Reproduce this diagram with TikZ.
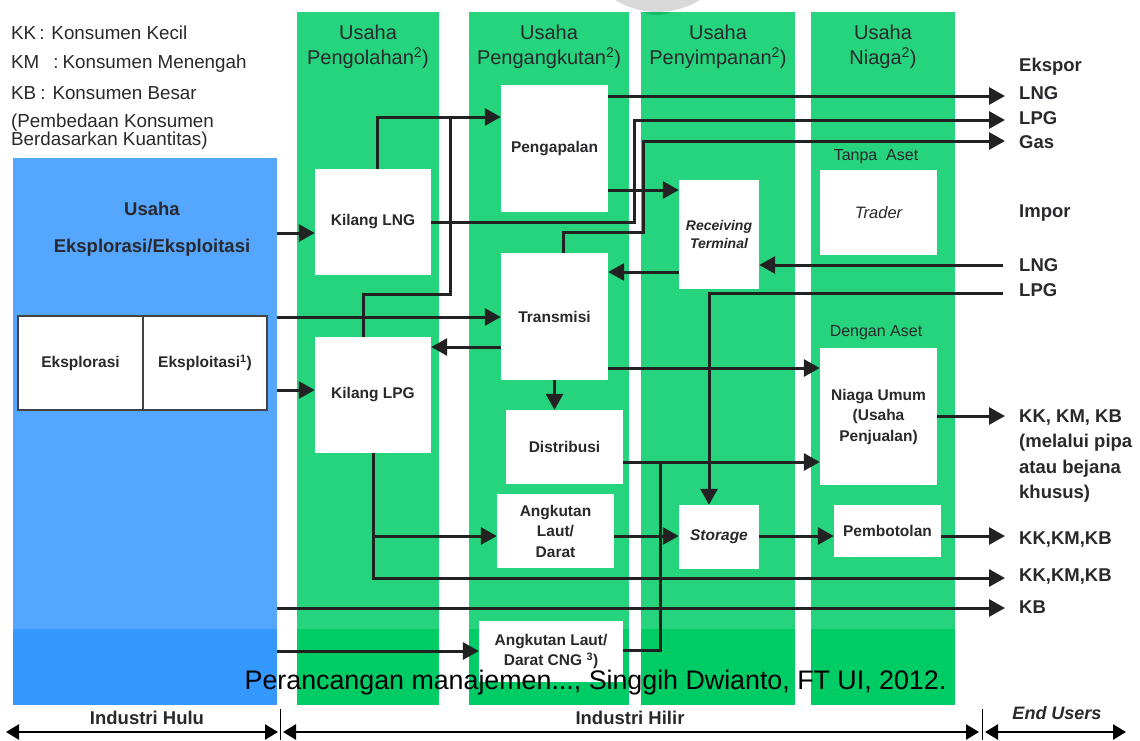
\documentclass[tikz,border=0pt]{standalone}
\usepackage{fontspec}
\setmainfont{Liberation Sans}
\usetikzlibrary{arrows.meta}

\definecolor{grn}{RGB}{38,212,125}
\definecolor{grnD}{RGB}{0,204,102}
\definecolor{grnS}{RGB}{20,185,105}
\definecolor{blu}{RGB}{85,166,255}
\definecolor{bluD}{RGB}{51,153,255}
\definecolor{ink}{RGB}{34,34,34}
\definecolor{txt}{RGB}{40,40,45}
\definecolor{sealgray}{RGB}{217,217,217}

\newcommand{\setfs}[2]{\fontsize{#1pt}{#2pt}\selectfont}

\begin{document}
\begin{tikzpicture}[x=1pt,y=-1pt,
  box/.style={fill=white, draw=none, inner sep=0pt, align=center, text=txt,
              font=\setfs{15.5}{20.5}\bfseries},
  hdr/.style={align=center, text=txt, font=\setfs{20}{25}},
  sub/.style={text=txt, font=\setfs{16}{20}},
  rlab/.style={anchor=west, inner sep=0pt, text=txt, align=left,
               font=\setfs{18.5}{25.3}\bfseries},
  leg/.style={anchor=west, inner sep=0pt, text=txt, font=\setfs{18.8}{18}},
  ln/.style={line width=3pt, draw=ink},
  arr/.style={ln, -{Triangle[length=16pt,width=17pt]}},
  dbl/.style={line width=2.6pt, draw=black,
              {Triangle[length=13pt,width=15pt]}-{Triangle[length=13pt,width=15pt]}},
  foot/.style={text=txt, font=\setfs{18.5}{20}\bfseries}]

\useasboundingbox (0,0) rectangle (1140,740);

% faint round seal at the top edge
\begin{scope}
  \clip (0,0) rectangle (1140,740);
  \fill[sealgray] (657.5,-69) circle (81);
\end{scope}

% ---------- business columns ----------
\foreach \a/\b in {297/439, 469/629, 641/795, 811/955}{
  \fill[grn] (\a,12) rectangle (\b,705);
  \fill[grnD] (\a,629) rectangle (\b,705);
}
\begin{scope}
  \clip (641,12) rectangle (795,30);
  \fill[grnS] (657,-20) circle (35);
\end{scope}

% upstream block
\node[fill=blu, draw=none, minimum width=264pt, minimum height=547pt,
      inner sep=0pt] (hulu) at (145,431.5) {};
\fill[bluD] (13,629) rectangle (277,705);
\node[align=center, text=txt, font=\setfs{18.5}{37}\bfseries] (hulut) at (152,229)
  {Usaha\\Eksplorasi/Eksploitasi};
\node[draw=ink!85, line width=1.2pt, fill=white, minimum width=125pt,
      minimum height=94pt, inner sep=0pt, text=txt, font=\setfs{15.5}{20}\bfseries]
  (eksr) at (80.5,363) {Eksplorasi};
\node[draw=ink!85, line width=1.2pt, fill=white, minimum width=124pt,
      minimum height=94pt, inner sep=0pt, text=txt, font=\setfs{15.5}{20}\bfseries]
  (eksp) at (205,363) {Eksploitasi\textsuperscript{1})};

% column headings
\node[hdr] (h1) at (368,47) {Usaha\\Pengolahan\textsuperscript{2})};
\node[hdr] (h2) at (549,47) {Usaha\\Pengangkutan\textsuperscript{2})};
\node[hdr] (h3) at (718,47) {Usaha\\Penyimpanan\textsuperscript{2})};
\node[hdr] (h4) at (883,47) {Usaha\\Niaga\textsuperscript{2})};
\node[sub] (tanpa) at (876,157) {Tanpa\ \ Aset};
\node[sub] (dengan) at (876,333) {Dengan Aset};

% legend
\node[leg] (l1) at (11,33) {KK\hspace{3pt}:\hspace{7pt}Konsumen Kecil};
\node[leg] (l2) at (11,64) {KM\hspace{14pt}:\hspace{4pt}Konsumen Menengah};
\node[leg] (l3) at (11,93) {KB\hspace{4pt}:\hspace{7pt}Konsumen Besar};
\node[leg] (l4) at (11,123) {(Pembedaan Konsumen};
\node[leg] (l5) at (11,141) {Berdasarkan Kuantitas)};

% ---------- process boxes ----------
\node[box, minimum width=107pt, minimum height=127pt] (peng) at (554.5,148.5) {Pengapalan};
\node[box, minimum width=116pt, minimum height=106pt] (lng) at (373,222) {Kilang LNG};
\node[box, minimum width=107pt, minimum height=127pt] (trans) at (554.5,316.5) {Transmisi};
\node[box, minimum width=116pt, minimum height=116pt] (lpg) at (373,395) {Kilang LPG};
\node[box, minimum width=117pt, minimum height=74pt] (dist) at (564.5,447) {Distribusi};
\node[box, minimum width=117pt, minimum height=74pt] (ald) at (555.5,531) {Angkutan\\Laut/\\Darat};
\node[box, minimum width=144pt, minimum height=61pt] (cng) at (551,651.5)
  {Angkutan Laut/\\Darat CNG \textsuperscript{3})};
\node[box, minimum width=80pt, minimum height=109pt, font=\setfs{14}{18}\bfseries\itshape]
  (rt) at (719,234.5) {Receiving\\Terminal};
\node[box, minimum width=117pt, minimum height=85pt, font=\setfs{16.5}{20}\itshape]
  (trader) at (878.5,212.5) {Trader};
\node[box, minimum width=117pt, minimum height=137pt] (niaga) at (878.5,416.5)
  {Niaga Umum\\(Usaha\\Penjualan)};
\node[box, minimum width=80pt, minimum height=64pt, font=\setfs{15.5}{20}\bfseries\itshape]
  (storage) at (719,537) {Storage};
\node[box, minimum width=107pt, minimum height=52pt] (pemb) at (887.5,531) {Pembotolan};

% ---------- outside labels ----------
\node[rlab] (tEks) at (1019,67) {Ekspor};
\node[rlab] (tLNG) at (1019,93) {LNG};
\node[rlab] (tLPG) at (1019,118) {LPG};
\node[rlab] (tGas) at (1019,142) {Gas};
\node[rlab] (tImp) at (1019,213) {Impor};
\node[rlab] (tLNGi) at (1019,265) {LNG};
\node[rlab] (tLPGi) at (1019,290) {LPG};
\node[rlab] (tUm) at (1019,456) {KK, KM, KB\\(melalui pipa\\atau bejana\\khusus)};
\node[rlab] (tBot) at (1019,540) {KK,KM,KB};
\node[rlab] (tLpg) at (1019,577) {KK,KM,KB};
\node[rlab] (tKB) at (1019,607) {KB};

% free ends of the flows
\coordinate (eLNG) at (1005,96);
\coordinate (eLPG) at (1005,120);
\coordinate (eGas) at (1005,141);
\coordinate (iLNG) at (1003,265);
\coordinate (iLPG) at (1003,293);
\coordinate (eUm) at (1005,416);
\coordinate (eBot) at (1005,536);
\coordinate (eLpg) at (1005,578);
\coordinate (eKB) at (1005,608);

% ---------- flows ----------
\draw[arr] (hulu.east |- 0,233) -- (lng.west |- 0,233);
\draw[arr] (hulu.east |- 0,317) -- (trans.west |- 0,317);
\draw[arr] (hulu.east |- 0,390) -- (lpg.west |- 0,390);
\draw[arr] (hulu.east |- 0,608) -- (eKB);
\draw[arr] (hulu.east |- 0,651) -- (cng.west |- 0,651);

\draw[arr] ([xshift=4pt]lng.north) |- (peng.west |- 0,117);
\draw[ln] ([xshift=-10pt]lpg.north) -- ++(0,-42) -| (450,117);

\draw[arr] (peng.east |- eLNG) -- (eLNG);
\draw[arr] (lng.east) -| (634,120) -- (eLPG);
\draw[arr] ([xshift=8.5pt]trans.north) -- ++(0,-20) -| (643,141) -- (eGas);

\draw[arr] (peng.east |- 0,190) -- (rt.west |- 0,190);
\draw[arr] (rt.west |- 0,272) -- (trans.east |- 0,272);
\draw[arr] (iLNG) -- (rt.east |- iLNG);
\draw[arr] (iLPG) -| ([xshift=-10pt]storage.north);

\draw[arr] (trans.west |- 0,347) -- (lpg.east |- 0,347);
\draw[arr] (trans.east |- 0,368) -- (niaga.west |- 0,368);
\draw[arr] (trans.south) -- (trans.south |- dist.north);
\draw[arr] (dist.east |- 0,462) -- (niaga.west |- 0,462);
\draw[ln] (cng.east |- 0,650) -| (660,462);

\draw[arr] (lpg.south) |- (eLpg);
\draw[arr] (lpg.south |- 0,536) -- (ald.west |- 0,536);
\draw[arr] (ald.east |- 0,536) -- (storage.west |- 0,536);
\draw[arr] (storage.east |- 0,536) -- (pemb.west |- 0,536);
\draw[arr] (pemb.east |- 0,536) -- (eBot);
\draw[arr] (niaga.east |- 0,416) -- (eUm);

% ---------- industry segments ----------
\coordinate (s0) at (6,732);
\coordinate (s1) at (278,732);
\coordinate (s2) at (283,732);
\coordinate (s3) at (979,732);
\coordinate (s4) at (985,732);
\coordinate (s5) at (1126,732);
\draw[dbl] (s0) -- (s1);
\draw[dbl] (s2) -- (s3);
\draw[dbl] (s4) -- (s5);
\draw[line width=0.9pt] (280.5,709) -- (280.5,740);
\draw[line width=0.9pt] (982,709) -- (982,740);
\node[foot] (fHulu) at (147,718) {Industri Hulu};
\node[foot] (fHilir) at (630,718) {Industri Hilir};
\node[foot, font=\setfs{18}{20}\bfseries\itshape] (fEnd) at (1057,713) {End Users};

% source line
\node[text=black, font=\setfs{26.8}{30}] (cap) at (595.5,683)
  {Perancangan manajemen..., Singgih Dwianto, FT UI, 2012.};
\end{tikzpicture}
\end{document}
